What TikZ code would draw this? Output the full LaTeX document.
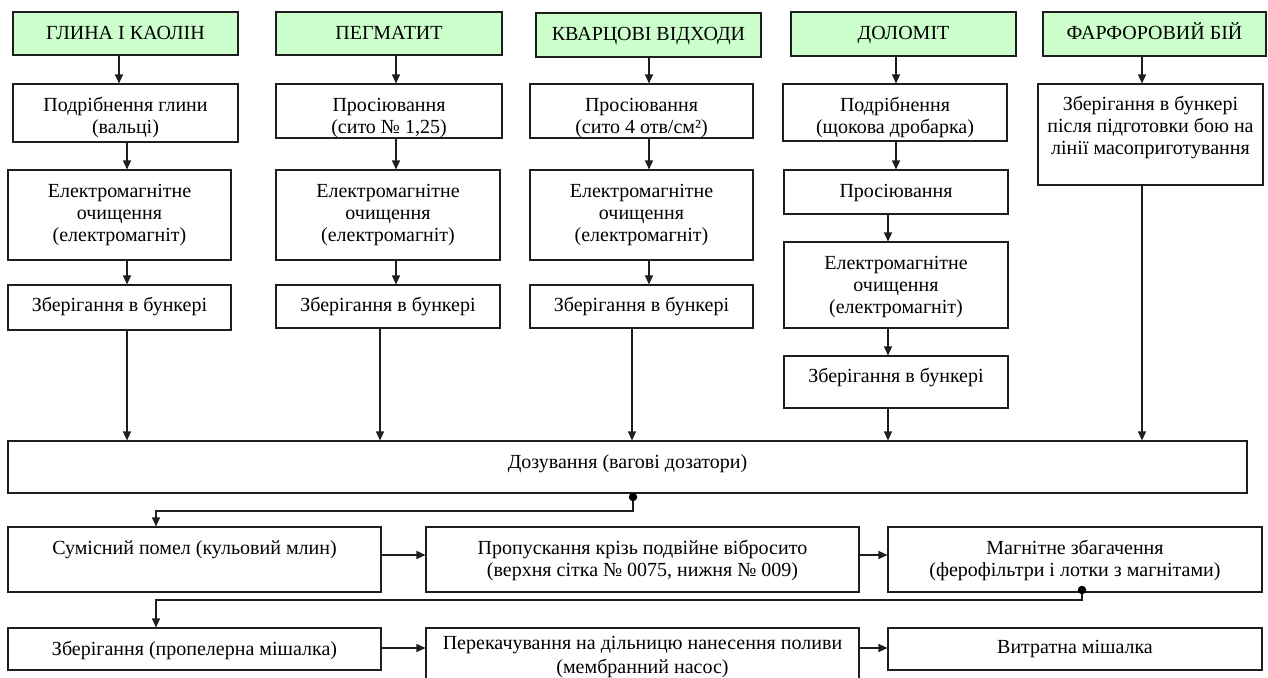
\documentclass[tikz,border=0pt]{standalone}
\usepackage{fontspec}
\setmainfont{Liberation Serif}
\usetikzlibrary{arrows.meta,fit,calc}
\definecolor{hdrgreen}{HTML}{CCFFCC}
\definecolor{edgec}{HTML}{1E1E1E}
\tikzset{
  hdr/.style={draw=edgec, line width=2.8pt, fill=hdrgreen},
  bxs/.style={draw=edgec, line width=1.1pt, fill=white},
  txt/.style={inner sep=0pt, align=center, font=\fontsize{20}{22}\selectfont, text=black},
  arr/.style={draw=edgec, line width=1.1pt, -{Triangle[length=9pt,width=8pt]}},
  ln/.style={draw=edgec, line width=1.1pt},
  jdot/.style={circle, fill=black, inner sep=0pt, minimum size=8.5pt},
}
% name, x1, y1, x2, y2, text
\newcommand{\mkhdr}[6]{%
  \coordinate (#1-a) at (#2,#3);
  \coordinate (#1-b) at (#4,#5);
  \node[fit=(#1-a)(#1-b), inner sep=0pt, hdr] (#1) {};
  \node[txt, anchor=base] (#1t) at ([yshift=-29pt]#1.north) {#6};
}
% name, x1, y1, x2, y2, text, top offset
\newcommand{\mkbox}[7]{%
  \coordinate (#1-a) at (#2,#3);
  \coordinate (#1-b) at (#4,#5);
  \node[fit=(#1-a)(#1-b), inner sep=0pt, bxs] (#1) {};
  \node[txt, anchor=north] (#1t) at ([yshift=-#7pt]#1.north) {\strut #6};
}
\begin{document}
\begin{tikzpicture}[x=1pt, y=-1pt]
\useasboundingbox (0,0) rectangle (1268,677);
% headers
\mkhdr{h1}{13}{12}{238}{55}{ГЛИНА І КАОЛІН}
\mkhdr{h2}{276}{12}{502}{55}{ПЕГМАТИТ}
\mkhdr{h3}{536}{13}{761}{57}{КВАРЦОВІ ВІДХОДИ}
\mkhdr{h4}{791}{12}{1016}{56}{ДОЛОМІТ}
\mkhdr{h5}{1043}{12}{1266}{56}{ФАРФОРОВИЙ БІЙ}
% column 1
\mkbox{a1}{13}{84}{238}{142}{Подрібнення глини\\(вальці)}{12.2}
\mkbox{a2}{8}{170}{231}{260}{Електромагнітне\\очищення\\(електромагніт)}{12.2}
\mkbox{a3}{8}{285}{231}{330}{Зберігання в бункері}{11.6}
% column 2
\mkbox{b1}{276}{84}{502}{138}{Просіювання\\(сито № 1,25)}{12.2}
\mkbox{b2}{276}{170}{500}{260}{Електромагнітне\\очищення\\(електромагніт)}{12.2}
\mkbox{b3}{276}{285}{500}{328}{Зберігання в бункері}{11.6}
% column 3
\mkbox{c1}{530}{84}{753}{138}{Просіювання\\(сито 4 отв/см²)}{12.2}
\mkbox{c2}{530}{170}{753}{260}{Електромагнітне\\очищення\\(електромагніт)}{12.2}
\mkbox{c3}{530}{285}{753}{328}{Зберігання в бункері}{11.6}
% column 4
\mkbox{d1}{783}{84}{1007}{141}{Подрібнення\\(щокова дробарка)}{12.2}
\mkbox{d2}{784}{170}{1008}{214}{Просіювання}{12.2}
\mkbox{d3}{784}{242}{1008}{328}{Електромагнітне\\очищення\\(електромагніт)}{12.2}
\mkbox{d4}{784}{356}{1008}{408}{Зберігання в бункері}{11.6}
% column 5
\mkbox{e1}{1038}{84}{1263}{185}{Зберігання в бункері\\після підготовки бою на\\лінії масоприготування}{11}
% dosing
\mkbox{dz}{8}{441}{1247}{493}{Дозування (вагові дозатори)}{12.2}
% row 1
\mkbox{f1}{8}{527}{381}{592}{Сумісний помел (кульовий млин)}{12.4}
\mkbox{f2}{426}{527}{859}{592}{Пропускання крізь подвійне вібросито\\(верхня сітка № 0075, нижня № 009)}{12.4}
\mkbox{f3}{888}{527}{1262}{592}{Магнітне збагачення\\(ферофільтри і лотки з магнітами)}{12.4}
% row 2
\mkbox{g1}{8}{628}{381}{670}{Зберігання (пропелерна мішалка)}{12.4}
\mkbox{g2}{426}{628}{859}{692}{Перекачування на дільницю нанесення поливи\\[1.5pt](мембранний насос)}{6.8}
\mkbox{g3}{888}{628}{1262}{670}{Витратна мішалка}{10.6}
% x positions of connectors
\coordinate (xa0) at (119,0);
\coordinate (xa) at (127,0);
\coordinate (xb0) at (396,0);
\coordinate (xb) at (380,0);
\coordinate (xc0) at (649,0);
\coordinate (xc) at (632,0);
\coordinate (xd0) at (896,0);
\coordinate (xd) at (888,0);
\coordinate (xe) at (1142,0);
\coordinate (yr1) at (0,555);
\coordinate (yr2) at (0,648);
% column 1 arrows
\draw[arr] (h1.south -| xa0) -- (a1.north -| xa0);
\draw[arr] (a1.south -| xa) -- (a2.north -| xa);
\draw[arr] (a2.south -| xa) -- (a3.north -| xa);
\draw[arr] (a3.south -| xa) -- (dz.north -| xa);
% column 2 arrows
\draw[arr] (h2.south -| xb0) -- (b1.north -| xb0);
\draw[arr] (b1.south -| xb0) -- (b2.north -| xb0);
\draw[arr] (b2.south -| xb0) -- (b3.north -| xb0);
\draw[arr] (b3.south -| xb) -- (dz.north -| xb);
% column 3 arrows
\draw[arr] (h3.south -| xc0) -- (c1.north -| xc0);
\draw[arr] (c1.south -| xc0) -- (c2.north -| xc0);
\draw[arr] (c2.south -| xc0) -- (c3.north -| xc0);
\draw[arr] (c3.south -| xc) -- (dz.north -| xc);
% column 4 arrows
\draw[arr] (h4.south -| xd0) -- (d1.north -| xd0);
\draw[arr] (d1.south -| xd0) -- (d2.north -| xd0);
\draw[arr] (d2.south -| xd) -- (d3.north -| xd);
\draw[arr] (d3.south -| xd) -- (d4.north -| xd);
\draw[arr] (d4.south -| xd) -- (dz.north -| xd);
% column 5 arrows
\draw[arr] (h5.south -| xe) -- (e1.north -| xe);
\draw[arr] (e1.south -| xe) -- (dz.north -| xe);
% dosing to row 1
\coordinate (j1) at (633,497);
\coordinate (j1a) at (633,511);
\coordinate (j1b) at (156,511);
\draw[arr] (j1) -- (j1a) -- (j1b) -- (f1.north -| j1b);
\node[jdot] (j1d) at (j1) {};
% row 1 arrows
\draw[arr] (f1.east |- yr1) -- (f2.west |- yr1);
\draw[arr] (f2.east |- yr1) -- (f3.west |- yr1);
% row 1 to row 2
\coordinate (j2) at (1082,590);
\coordinate (j2a) at (1082,600);
\coordinate (j2b) at (156,600);
\draw[arr] (j2) -- (j2a) -- (j2b) -- (g1.north -| j2b);
\node[jdot] (j2d) at (j2) {};
% row 2 arrows
\draw[arr] (g1.east |- yr2) -- (g2.west |- yr2);
\draw[arr] (g2.east |- yr2) -- (g3.west |- yr2);
\end{tikzpicture}
\end{document}
